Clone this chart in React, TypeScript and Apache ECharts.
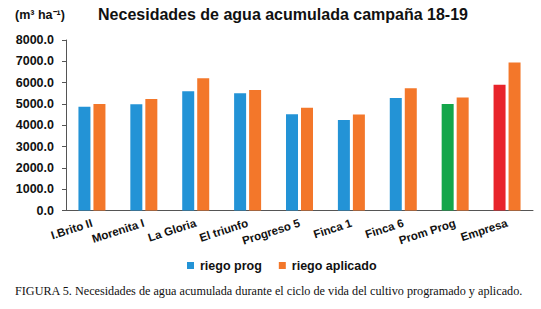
import React, { useEffect, useRef } from "react";
import * as echarts from "echarts";

const categories = ["I.Brito II", "Morenita I", "La Gloria", "El triunfo", "Progreso 5", "Finca 1", "Finca 6", "Prom Prog", "Empresa"];
const riegoProg = [4870, 4990, 5600, 5500, 4520, 4250, 5280, 5000, 5900];
const riegoAplicado = [5000, 5230, 6200, 5650, 4820, 4500, 5740, 5300, 6940];
const progColors = ["#2393d6", "#2393d6", "#2393d6", "#2393d6", "#2393d6", "#2393d6", "#2393d6", "#13a64a", "#e8242b"];
const yTicks = { min: 0, max: 8000, interval: 1000 };

const FONT = "'Liberation Sans', Arial, sans-serif";

export default function App() {
  const ref = useRef<HTMLDivElement>(null);
  useEffect(() => {
    const chart = echarts.init(ref.current!, null, { renderer: "svg" });
    chart.setOption({
      animation: false,
      backgroundColor: "#ffffff",
      title: {
        text: "Necesidades de agua acumulada campaña 18-19",
        left: 278,
        top: 1,
        textAlign: "center",
        textStyle: { fontFamily: FONT, fontWeight: "bold", fontSize: 16, color: "#111" },
      },
      graphic: [
        {
          type: "text",
          left: 15,
          top: 8,
          style: { text: "(m³ ha⁻¹)", font: `bold 12.5px ${FONT}`, fill: "#111" },
        },
        {
          type: "text",
          left: 15,
          top: 285,
          style: {
            text: "FIGURA 5. Necesidades de agua acumulada durante el ciclo de vida del cultivo programado y aplicado.",
            font: "12.2px 'Liberation Serif', 'Times New Roman', serif",
            fill: "#111",
          },
        },
      ],
      legend: {
        left: 182,
        top: 254,
        itemWidth: 7,
        itemHeight: 7,
        itemGap: 17,
        icon: "rect",
        textStyle: { fontFamily: FONT, fontWeight: "bold", fontSize: 12.5, color: "#111", padding: [0, 0, 0, 1] },
        data: [
          { name: "riego prog", itemStyle: { color: "#2393d6" } },
          { name: "riego aplicado", itemStyle: { color: "#f3772a" } },
        ],
      },
      grid: { left: 66, right: 8, top: 40, bottom: 98.5, containLabel: false },
      xAxis: {
        type: "category",
        data: categories,
        axisLine: { show: true, lineStyle: { color: "#555", width: 1 } },
        axisTick: { show: false },
        axisLabel: {
          interval: 0,
          rotate: 18,
          margin: 12,
          fontFamily: FONT,
          fontWeight: "bold",
          fontSize: 11.5,
          color: "#111",
        },
      },
      yAxis: {
        type: "value",
        min: yTicks.min,
        max: yTicks.max,
        interval: yTicks.interval,
        splitLine: { show: false },
        axisLine: { show: true, lineStyle: { color: "#555", width: 1 } },
        axisTick: { show: true, length: 4, lineStyle: { color: "#555" } },
        axisLabel: {
          formatter: (v: number) => v.toFixed(1),
          fontFamily: FONT,
          fontWeight: "bold",
          fontSize: 12.5,
          color: "#111",
          margin: 12,
        },
      },
      series: [
        {
          name: "riego prog",
          type: "bar",
          barWidth: 12,
          barGap: "25%",
          itemStyle: { color: "#2393d6" },
          data: riegoProg.map((v, i) => ({ value: v, itemStyle: { color: progColors[i] } })),
        },
        {
          name: "riego aplicado",
          type: "bar",
          barWidth: 12,
          itemStyle: { color: "#f3772a" },
          data: riegoAplicado,
        },
      ],
    });
    return () => chart.dispose();
  }, []);
  return (
    <div
      ref={ref}
      style={{ position: "fixed", left: 0, top: 0, width: 541, height: 309 }}
    />
  );
}
